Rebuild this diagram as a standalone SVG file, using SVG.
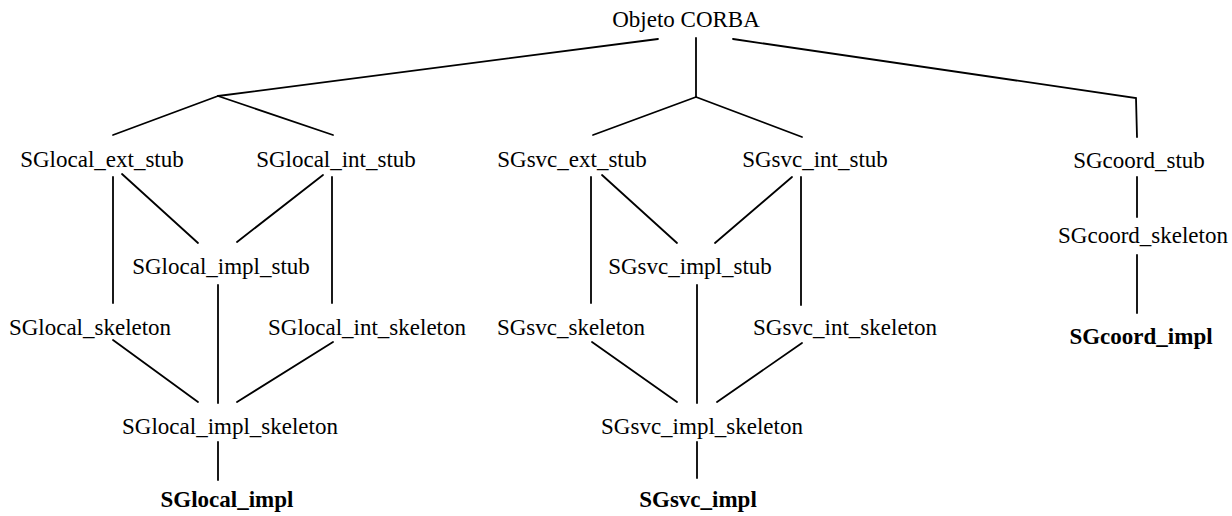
<svg xmlns="http://www.w3.org/2000/svg" width="1232" height="516" viewBox="0 0 1232 516">
<style>
text{font-family:"Liberation Serif","Times New Roman",serif;font-size:23px;fill:#000;text-anchor:middle}
text.b{font-weight:bold}
#connectors line,#connectors polyline{stroke:#000;stroke-width:1.8;fill:none;stroke-linecap:round}
</style>
<rect width="1232" height="516" fill="#fff"/>
<g id="connectors">
<line x1="658" y1="39" x2="218" y2="96"/>
<line x1="696" y1="38" x2="696" y2="97"/>
<polyline points="733,39 1136,98 1137,137"/>
<line x1="218" y1="96" x2="113" y2="135"/>
<line x1="218" y1="96" x2="333" y2="135"/>
<line x1="696" y1="97" x2="593" y2="135"/>
<line x1="696" y1="97" x2="802" y2="137"/>
<line x1="113" y1="177" x2="113" y2="303"/>
<line x1="122" y1="174" x2="198" y2="243"/>
<line x1="323" y1="175" x2="237" y2="242"/>
<line x1="332" y1="177" x2="332" y2="303"/>
<line x1="218" y1="285" x2="218" y2="403"/>
<line x1="113" y1="340" x2="198" y2="402"/>
<line x1="333" y1="342" x2="237" y2="402"/>
<line x1="218" y1="442" x2="218" y2="480"/>
<line x1="591" y1="177" x2="591" y2="303"/>
<line x1="602" y1="175" x2="677" y2="243"/>
<line x1="792" y1="177" x2="715" y2="243"/>
<line x1="801" y1="177" x2="801" y2="305"/>
<line x1="697" y1="285" x2="697" y2="403"/>
<line x1="592" y1="342" x2="677" y2="402"/>
<line x1="802" y1="343" x2="717" y2="402"/>
<line x1="697" y1="442" x2="697" y2="478"/>
<line x1="1137" y1="177" x2="1137" y2="217"/>
<line x1="1137" y1="255" x2="1137" y2="313"/>
</g>
<g id="objeto_corba"><text x="686" y="27">Objeto CORBA</text></g>
<g id="sglocal_ext_stub"><text x="102" y="167">SGlocal_ext_stub</text></g>
<g id="sglocal_int_stub"><text x="336" y="167">SGlocal_int_stub</text></g>
<g id="sgsvc_ext_stub"><text x="572" y="167">SGsvc_ext_stub</text></g>
<g id="sgsvc_int_stub"><text x="815" y="167">SGsvc_int_stub</text></g>
<g id="sgcoord_stub"><text x="1139" y="168">SGcoord_stub</text></g>
<g id="sglocal_impl_stub"><text x="221" y="274">SGlocal_impl_stub</text></g>
<g id="sgsvc_impl_stub"><text x="690" y="274">SGsvc_impl_stub</text></g>
<g id="sgcoord_skeleton"><text x="1143" y="243">SGcoord_skeleton</text></g>
<g id="sglocal_skeleton"><text x="90" y="335">SGlocal_skeleton</text></g>
<g id="sglocal_int_skeleton"><text x="367" y="335">SGlocal_int_skeleton</text></g>
<g id="sgsvc_skeleton"><text x="571" y="335">SGsvc_skeleton</text></g>
<g id="sgsvc_int_skeleton"><text x="845" y="335">SGsvc_int_skeleton</text></g>
<g id="sgcoord_impl"><text class="b" x="1141" y="344">SGcoord_impl</text></g>
<g id="sglocal_impl_skeleton"><text x="230" y="434">SGlocal_impl_skeleton</text></g>
<g id="sgsvc_impl_skeleton"><text x="702" y="434">SGsvc_impl_skeleton</text></g>
<g id="sglocal_impl"><text class="b" x="227" y="507">SGlocal_impl</text></g>
<g id="sgsvc_impl"><text class="b" x="698" y="507">SGsvc_impl</text></g>
</svg>
